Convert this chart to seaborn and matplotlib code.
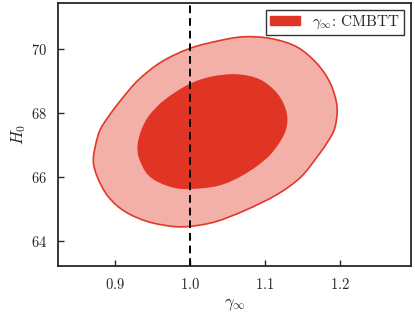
import matplotlib
matplotlib.use("Agg")
import matplotlib.pyplot as plt
import seaborn as sns
import numpy as np
from matplotlib.patches import Patch, PathPatch
from matplotlib.path import Path

# 95% contour (outer)
outer_gamma = [0.871, 0.874, 0.880, 0.891, 0.908, 0.931, 0.962, 1.000, 1.037, 1.071,
               1.107, 1.142, 1.169, 1.187, 1.196, 1.193, 1.183, 1.168, 1.147, 1.116,
               1.073, 1.034, 1.002, 0.978, 0.944, 0.913, 0.891, 0.877]
outer_h0 = [66.48, 67.00, 67.47, 67.88, 68.41, 69.03, 69.60, 70.02, 70.25, 70.38,
            70.33, 70.07, 69.55, 68.93, 68.20, 67.53, 67.08, 66.58, 65.98, 65.45,
            64.95, 64.60, 64.46, 64.45, 64.60, 64.92, 65.38, 65.96]

# 68% contour (inner)
inner_gamma = [0.932, 0.930, 0.935, 0.946, 0.966, 0.997, 1.027, 1.062, 1.093, 1.116,
               1.128, 1.129, 1.120, 1.102, 1.071, 1.037, 0.993, 0.966, 0.944]
inner_h0 = [66.58, 67.00, 67.47, 67.94, 68.41, 68.88, 69.13, 69.21, 69.05, 68.62,
            68.09, 67.58, 67.10, 66.58, 66.06, 65.72, 65.62, 65.75, 66.06]

gamma_ref = 1.0
label = r'$\gamma_\infty$: CMBTT'


def smooth_path(xs, ys):
    # closed curve through the points (Catmull-Rom drawn as cubic Bezier segments)
    p = np.column_stack([xs, ys])
    n = len(p)
    verts = [p[0]]
    codes = [Path.MOVETO]
    for i in range(n):
        p0, p1, p2, p3 = p[i - 1], p[i], p[(i + 1) % n], p[(i + 2) % n]
        verts += [p1 + (p2 - p0) / 6, p2 - (p3 - p1) / 6, p2]
        codes += [Path.CURVE4] * 3
    return Path(verts, codes)


sns.set_style('ticks')
plt.rcParams['font.family'] = 'serif'
plt.rcParams['font.serif'] = ['cmr10', 'DejaVu Serif']
plt.rcParams['mathtext.fontset'] = 'cm'
plt.rcParams['axes.formatter.use_mathtext'] = True
plt.rcParams['axes.unicode_minus'] = False

fig = plt.figure(figsize=(4.15, 3.25), dpi=100)
ax = fig.add_axes([0.140, 0.182, 0.851, 0.809])

ax.add_patch(PathPatch(smooth_path(outer_gamma, outer_h0), facecolor='#f3b0a8',
                       edgecolor='#e0392a', lw=1.2))
ax.add_patch(PathPatch(smooth_path(inner_gamma, inner_h0), facecolor='#e03525', lw=0))
ax.axvline(gamma_ref, color='black', ls='--', lw=1.4, dashes=(4, 2.5))

ax.set_xlim(0.824, 1.295)
ax.set_ylim(63.22, 71.44)
ax.set_xticks([0.9, 1.0, 1.1, 1.2])
ax.set_yticks([64, 66, 68, 70])
ax.set_xlabel(r'$\gamma_\infty$', fontsize=12, labelpad=3)
ax.set_ylabel(r'$H_0$', fontsize=12, labelpad=2)
ax.tick_params(direction='in', length=4, width=1, labelsize=10.5, pad=8)
for s in ax.spines.values():
    s.set_linewidth(1.3)

leg = ax.legend(handles=[Patch(color='#e03525', label=label)], loc='upper right',
                fontsize=11, frameon=True, fancybox=False, edgecolor='black',
                borderaxespad=0.45, borderpad=0.25, handlelength=2.0, handleheight=0.6,
                handletextpad=0.8)
leg.get_frame().set_linewidth(1.0)

fig.savefig('out.png', dpi=100)
